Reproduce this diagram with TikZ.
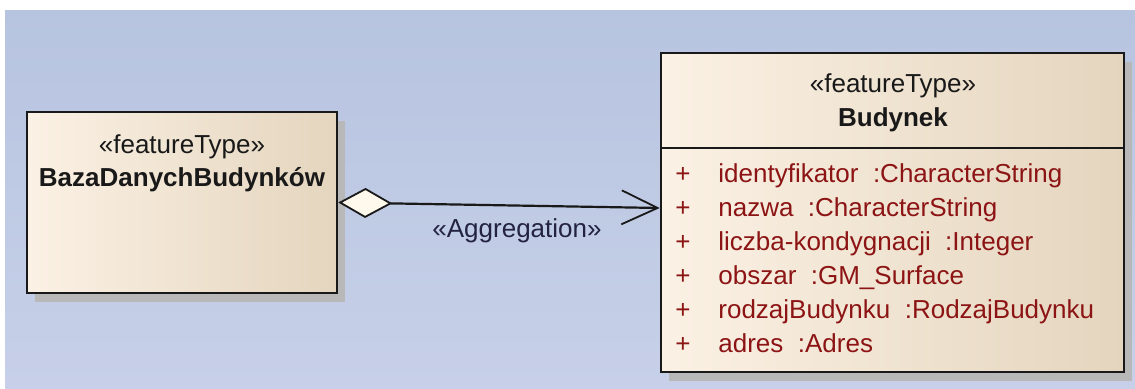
\documentclass[tikz,border=0pt]{standalone}
\usepackage{fontspec}
\setmainfont{Liberation Sans}
\usetikzlibrary{arrows.meta,shadows,positioning}

\definecolor{bgtop}{RGB}{183,196,224}
\definecolor{bgbottom}{RGB}{199,208,232}
\definecolor{boxlight}{RGB}{251,241,228}
\definecolor{boxdark}{RGB}{228,213,190}
\definecolor{diamondfill}{RGB}{255,248,236}
\definecolor{attrred}{RGB}{140,20,20}
\definecolor{labelink}{RGB}{35,35,65}

\begin{document}
\begin{tikzpicture}[
    x=0.5pt, y=-0.5pt,
    font=\fontsize{13}{16}\selectfont,
    classbox/.style={rectangle, draw=black!90, line width=1.3pt, left color=boxlight, right color=boxdark, drop shadow={shadow xshift=4pt, shadow yshift=-4.5pt, fill=black!28, opacity=1}},
    stereo/.style={anchor=base, inner sep=0pt, text=black!90},
    attr/.style={anchor=base west, inner sep=0pt, text=attrred},
    aggr/.style={line width=1.1pt, draw=black!90, {Diamond[fill=diamondfill, length=27pt, width=15pt, line width=0.9pt]}-{Straight Barb[length=18pt, width=17pt, line width=0.9pt]}}
]

% Canvas
\useasboundingbox (0,0) rectangle (1135,389);
\fill[top color=bgtop, bottom color=bgbottom] (5,11) rectangle (1135,389);

% Classes
\node[classbox, minimum width=155pt, minimum height=90.5pt] (baza) at (182,202.5) {};
\node[classbox, minimum width=231.5pt, minimum height=159.5pt] (budynek) at (892.5,212.5) {};

% Class names
\node[stereo] (bazast) at (182,154) {«featureType»};
\node[stereo, font=\fontsize{13}{16}\selectfont\bfseries] (bazaname) at (182,187) {BazaDanychBudynków};
\node[stereo] (budst) at (893,93) {«featureType»};
\node[stereo, font=\fontsize{13}{16}\selectfont\bfseries] (budname) at (893,127) {Budynek};

% Compartment line
\coordinate (div) at (0,148);
\draw[draw=black!90, line width=1.3pt] (budynek.west |- div) -- (budynek.east |- div);

% Attributes
\foreach \name/\type [count=\i from 0] in {identyfikator/CharacterString, nazwa/CharacterString, liczba-kondygnacji/Integer, obszar/GM\_Surface, rodzajBudynku/RodzajBudynku, adres/Adres} {
    \node[attr] (plus\i) at (675,183+34*\i) {+};
    \node[attr] (attr\i) at (718,183+34*\i) {\name\ \ :\type};
}

% Aggregation
\draw[aggr] (baza.east) -- ([yshift=2.25pt]budynek.west);
\node[stereo, text=labelink] (aggrlabel) at (517,238) {«Aggregation»};

\end{tikzpicture}
\end{document}
